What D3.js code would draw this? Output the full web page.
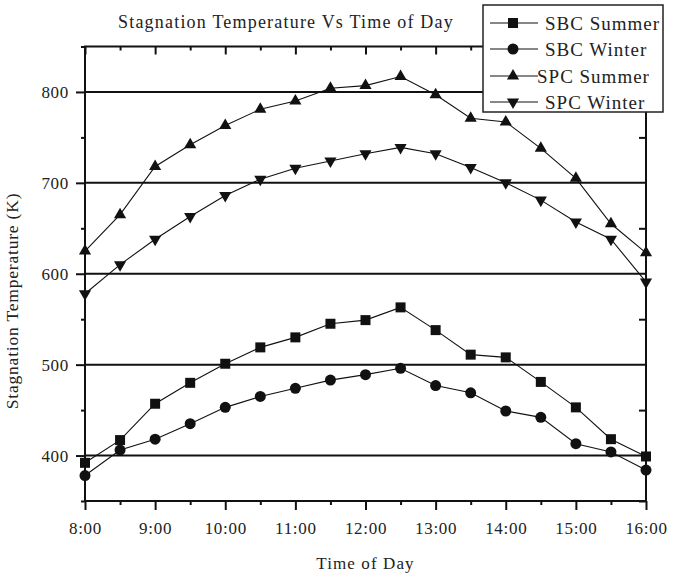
<!DOCTYPE html>
<html>
<head>
<meta charset="utf-8">
<script src="https://cdn.jsdelivr.net/npm/d3@7"></script>
<style>
  html, body { margin: 0; padding: 0; background: #fff; }
  svg, svg text { font-family: "Liberation Serif", "DejaVu Serif", serif !important; }
</style>
</head>
<body>
<svg id="chart" width="673" height="577"></svg>
<script>
// ---- data ----
const timeLabels = ["8:00","8:30","9:00","9:30","10:00","10:30","11:00","11:30","12:00",
                    "12:30","13:00","13:30","14:00","14:30","15:00","15:30","16:00"];
const hours = [8,8.5,9,9.5,10,10.5,11,11.5,12,12.5,13,13.5,14,14.5,15,15.5,16];
const sbcSummer = [392,417,457,480,501,519,530,545,549,563,538,511,508,481,453,418,399];
const sbcWinter = [378,406,418,435,453,465,474,483,489,496,477,469,449,442,413,404,384];
const spcSummer = [625,665,718,742,763,781,790,804,807,817,797,771,767,738,705,655,623];
const spcWinter = [578,610,638,663,686,704,716,724,732,739,732,717,700,681,657,638,591];
const seriesNames = ["SBC Summer","SBC Winter","SPC Summer","SPC Winter"];
const xTickLabels = ["8:00","9:00","10:00","11:00","12:00","13:00","14:00","15:00","16:00"];
const yTicks = [400,500,600,700,800];
const yMinorTicks = [350,450,550,650,750,850];

(function(){
const svg = d3.select("#chart");
const pL = 85, pR = 646, pT = 46.5, pB = 501;

const x = d3.scaleLinear().domain([8,16]).range([pL,pR]);
const y = d3.scaleLinear().domain([350,850]).range([pB,pT]);

svg.append("rect").attr("width",673).attr("height",577).attr("fill","#fff");

// gridlines
svg.append("g").selectAll("line").data(yTicks).join("line")
  .attr("x1",pL).attr("x2",pR)
  .attr("y1",d=>y(d)).attr("y2",d=>y(d))
  .attr("stroke","#111").attr("stroke-width",2);

// series
const series = [
  {name:seriesNames[0], values:sbcSummer, sym:d3.symbolSquare, size:100, rot:0},
  {name:seriesNames[1], values:sbcWinter, sym:d3.symbolCircle, size:95, rot:0},
  {name:seriesNames[2], values:spcSummer, sym:d3.symbolTriangle, size:64, rot:0},
  {name:seriesNames[3], values:spcWinter, sym:d3.symbolTriangle, size:64, rot:180}
];

const line = d3.line().x((d,i)=>x(hours[i])).y(d=>y(d));
series.forEach(s=>{
  svg.append("path").datum(s.values).attr("d",line)
    .attr("fill","none").attr("stroke","#111").attr("stroke-width",1.1);
});
series.forEach(s=>{
  svg.append("g").selectAll("path").data(s.values).join("path")
    .attr("d", d3.symbol().type(s.sym).size(s.size))
    .attr("transform",(d,i)=>`translate(${x(hours[i])},${y(d)}) rotate(${s.rot})`)
    .attr("fill","#111");
});

// axes
const xMajor = d3.range(8,16.01,1), xMinor = d3.range(8.5,16,1);
const bottomAxis = svg.append("g").attr("transform",`translate(0,${pB})`)
  .call(d3.axisBottom(x).tickValues(xMajor).tickFormat((d,i)=>xTickLabels[i]).tickSize(9).tickPadding(12));
const bottomMinor = svg.append("g").attr("transform",`translate(0,${pB})`)
  .call(d3.axisBottom(x).tickValues(xMinor).tickFormat("").tickSize(4));
const topAxis = svg.append("g").attr("transform",`translate(0,${pT})`)
  .call(d3.axisBottom(x).tickValues(xMajor).tickFormat("").tickSize(8));
const topMinor = svg.append("g").attr("transform",`translate(0,${pT})`)
  .call(d3.axisBottom(x).tickValues(xMinor).tickFormat("").tickSize(4));
const leftAxis = svg.append("g").attr("transform",`translate(${pL},0)`)
  .call(d3.axisLeft(y).tickValues(yTicks).tickSize(9).tickPadding(7));
const leftMinor = svg.append("g").attr("transform",`translate(${pL},0)`)
  .call(d3.axisLeft(y).tickValues(yMinorTicks).tickFormat("").tickSize(4));
const rightAxis = svg.append("g").attr("transform",`translate(${pR},0)`)
  .call(d3.axisLeft(y).tickValues(yMinorTicks).tickFormat("").tickSize(7));

[bottomAxis,bottomMinor,topAxis,topMinor,leftAxis,leftMinor,rightAxis].forEach(g=>{
  g.select(".domain").remove();
  g.attr("font-family",null);
  g.selectAll(".tick line").attr("stroke","#111").attr("stroke-width",2);
  g.selectAll("text").attr("font-size",17).attr("fill","#222").attr("letter-spacing",0.7);
});

// frame
svg.append("rect").attr("x",pL).attr("y",pT).attr("width",pR-pL).attr("height",pB-pT)
  .attr("fill","none").attr("stroke","#111").attr("stroke-width",2);

// titles
svg.append("text").attr("x",286).attr("y",28).attr("text-anchor","middle")
  .attr("font-size",18).attr("letter-spacing",1.2).attr("fill","#222")
  .text("Stagnation Temperature Vs Time of Day");
svg.append("text").attr("x",(pL+pR)/2).attr("y",569).attr("text-anchor","middle")
  .attr("font-size",17).attr("letter-spacing",1.1).attr("fill","#222")
  .text("Time of Day");
svg.append("text").attr("transform","translate(18,301) rotate(-90)").attr("text-anchor","middle")
  .attr("font-size",17.5).attr("letter-spacing",0.8).attr("fill","#222")
  .text("Stagnation Temperature (K)");

// legend
const lg = svg.append("g");
lg.append("rect").attr("x",483).attr("y",5).attr("width",180).attr("height",107)
  .attr("fill","#fff").attr("stroke","#222").attr("stroke-width",1.5);
const rowY = [23,49,76,102];
series.forEach((s,i)=>{
  lg.append("line").attr("x1",490).attr("x2",538).attr("y1",rowY[i]).attr("y2",rowY[i])
    .attr("stroke","#111").attr("stroke-width",1.1);
  lg.append("path").attr("d",d3.symbol().type(s.sym).size(s.size))
    .attr("transform",`translate(513,${rowY[i]}) rotate(${s.rot})`).attr("fill","#111");
  lg.append("text").attr("x", i===2 ? 537 : 545).attr("y",rowY[i]).attr("dy","0.35em")
    .attr("font-size",19).attr("letter-spacing",1).attr("fill","#222").text(s.name);
});
})();
</script>
</body>
</html>
